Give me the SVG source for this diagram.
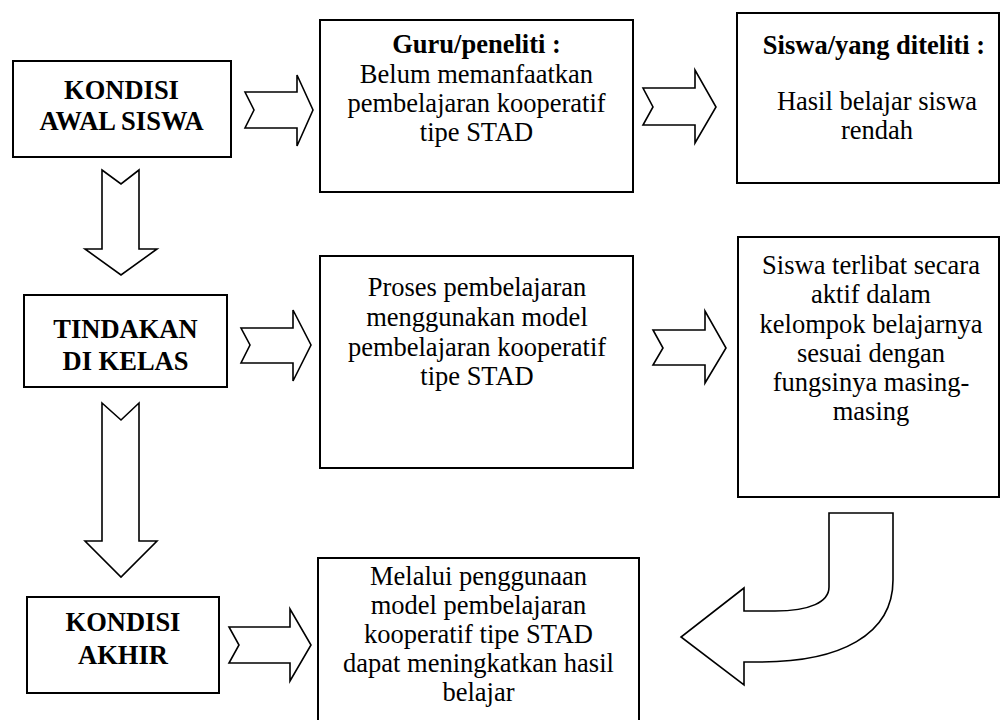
<svg xmlns="http://www.w3.org/2000/svg" width="1001" height="720" viewBox="0 0 1001 720">
<style>
.box{fill:#fff;stroke:#000;stroke-width:2}
.arr{fill:#fff;stroke:#000;stroke-width:1.6;stroke-linejoin:miter}
text{font-family:"Liberation Serif","Times New Roman",serif;font-size:26.5px;fill:#000;text-anchor:middle}
.b{font-weight:bold}
</style>
<rect width="1001" height="720" fill="#fff"/>
<g id="connectors">
<polygon class="arr" points="245,92 297,92 297,75 313,110 297,146 297,128 245,128 254,110"/>
<polygon class="arr" points="643,88 695,88 695,70 716,107 695,143 695,125 643,125 653,107"/>
<polygon class="arr" points="241,328 293,328 293,310 311,345 293,381 293,363 241,363 250,345"/>
<polygon class="arr" points="653,330 705,330 705,311 726,348 705,383 705,365 653,365 663,348"/>
<polygon class="arr" points="229,627 290,627 290,609 311,645 290,681 290,663 229,663 239,645"/>
<polygon class="arr" points="102,170 121,184 139,170 139,249 157,249 121,275 85,249 102,249"/>
<polygon class="arr" points="102,403 121,420 139,403 139,541 157,541 121,577 85,541 102,541"/>
<path class="arr" d="M829,513 L893,513 L893,580 C893,635 840,662 760,662 L744,662 L744,685 L681,637 L744,588 L744,611 L775,611 C810,611 829,602 829,587 Z"/>
</g>
<g id="n1"><rect class="box" x="13" y="61" width="218" height="96"/><text class="b" x="121.5" y="99">KONDISI</text><text class="b" x="121.5" y="130">AWAL SISWA</text></g>
<g id="n2"><rect class="box" x="320" y="20" width="313" height="172"/><text class="b" x="476.5" y="53">Guru/peneliti :</text><text x="476.5" y="83">Belum memanfaatkan</text><text x="476.5" y="112">pembelajaran kooperatif</text><text x="476.5" y="141">tipe STAD</text></g>
<g id="n3"><rect class="box" x="737" y="13" width="262" height="170"/><text class="b" x="874" y="54">Siswa/yang diteliti :</text><text x="877" y="110">Hasil belajar siswa</text><text x="877" y="139">rendah</text></g>
<g id="n4"><rect class="box" x="24" y="295" width="203" height="92"/><text class="b" x="125.5" y="338">TINDAKAN</text><text class="b" x="125.5" y="370">DI KELAS</text></g>
<g id="n5"><rect class="box" x="320" y="256" width="313" height="212"/><text x="477" y="296">Proses pembelajaran</text><text x="477" y="326">menggunakan model</text><text x="477" y="356">pembelajaran kooperatif</text><text x="477" y="385">tipe STAD</text></g>
<g id="n6"><rect class="box" x="738" y="237" width="261" height="260"/><text x="871" y="274">Siswa terlibat secara</text><text x="871" y="303">aktif dalam</text><text x="871" y="333">kelompok belajarnya</text><text x="871" y="362">sesuai dengan</text><text x="871" y="391">fungsinya masing-</text><text x="871" y="420">masing</text></g>
<g id="n7"><rect class="box" x="27" y="597" width="192" height="96"/><text class="b" x="123" y="631">KONDISI</text><text class="b" x="123" y="664">AKHIR</text></g>
<g id="n8"><rect class="box" x="318" y="558" width="321" height="180"/><text x="478.5" y="585">Melalui penggunaan</text><text x="478.5" y="614">model pembelajaran</text><text x="478.5" y="643">kooperatif tipe STAD</text><text x="478.5" y="672">dapat meningkatkan hasil</text><text x="478.5" y="701">belajar</text></g>
</svg>
